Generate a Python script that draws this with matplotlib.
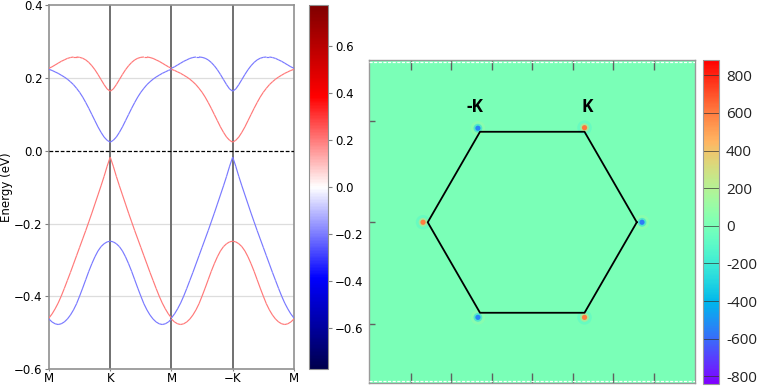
import numpy as np
import matplotlib.pyplot as plt
from matplotlib.collections import LineCollection
from matplotlib.colors import Normalize
from matplotlib.cm import ScalarMappable

# ---- band structure data (eV), sampled along M -> K, fraction of the segment ----
k_frac = np.linspace(0.0, 1.0, 21)

cb_upper = [0.227, 0.231, 0.236, 0.241, 0.246, 0.250, 0.254, 0.2565, 0.258, 0.258,
            0.257, 0.2545, 0.250, 0.243, 0.234, 0.223, 0.210, 0.196, 0.182, 0.170, 0.164]
cb_lower = [0.224, 0.221, 0.217, 0.213, 0.208, 0.203, 0.197, 0.190, 0.182, 0.172,
            0.161, 0.148, 0.133, 0.117, 0.100, 0.083, 0.066, 0.051, 0.038, 0.029, 0.024]
vb_upper = [-0.459, -0.448, -0.434, -0.418, -0.399, -0.378, -0.356, -0.334, -0.311, -0.288,
            -0.265, -0.242, -0.219, -0.195, -0.171, -0.146, -0.121, -0.096, -0.070, -0.042, -0.017]
vb_lower = [-0.462, -0.470, -0.475, -0.477, -0.475, -0.470, -0.462, -0.451, -0.437, -0.420,
            -0.399, -0.377, -0.354, -0.331, -0.310, -0.291, -0.275, -0.263, -0.255, -0.250, -0.248]

# spin expectation on the M-K-M half; the M-(-K)-M half has the opposite sign
band_spin = [0.2, -0.2, 0.2, -0.2]

path_labels = ["M", "K", "M", "$-$K", "M"]
y_ticks = [-0.6, -0.4, -0.2, 0.0, 0.2, 0.4]
spin_ticks = [-0.6, -0.4, -0.2, 0.0, 0.2, 0.4, 0.6]

# ---- Berry curvature map data ----
bz_kx = [1.0, 0.5, -0.5, -1.0, -0.5, 0.5]
bz_ky = [0.0, 0.866, 0.866, 0.0, -0.866, -0.866]
valley_kx = [1.05, 0.5, -0.52, -1.045, -0.52, 0.5]
valley_ky = [0.0, 0.905, 0.9, 0.0, -0.91, -0.91]
valley_curv = [-560, 620, -540, 600, -540, 600]
valley_names = ["-K", "K"]
curv_ticks = [-800, -600, -400, -200, 0, 200, 400, 600, 800]
map_xticks = [-1.164, -0.776, -0.388, 0.0, 0.388, 0.776, 1.164]
map_yticks = [-0.97, 0.0, 0.97]

fig = plt.figure(figsize=(7.63, 3.86), dpi=100)

# ================= left: spin-resolved bands =================
ax1 = fig.add_axes([0.0642, 0.0433, 0.321, 0.943])
cax1 = fig.add_axes([0.405, 0.0433, 0.0249, 0.943])

spin_norm = Normalize(-0.775, 0.775)
for band, s in zip([cb_upper, cb_lower, vb_upper, vb_lower], band_spin):
    e = np.asarray(band)
    for seg in range(4):
        x = seg + k_frac
        y = e if seg % 2 == 0 else e[::-1]
        sp = np.full(len(k_frac) - 1, s if seg < 2 else -s)
        pts = np.column_stack([x, y]).reshape(-1, 1, 2)
        segs = np.concatenate([pts[:-1], pts[1:]], axis=1)
        lc = LineCollection(segs, cmap="seismic", norm=spin_norm, linewidths=0.85, zorder=3)
        lc.set_array(sp)
        ax1.add_collection(lc)

for xv in [1, 2, 3]:
    ax1.axvline(xv, color="#707070", lw=1.4, zorder=2)
for yv in [-0.4, -0.2, 0.2]:
    ax1.axhline(yv, color="#dddddd", lw=0.9, zorder=1)
ax1.axhline(0.0, color="black", lw=0.9, ls=(0, (3, 1.5)), zorder=4)

ax1.set_xlim(0, 4)
ax1.set_ylim(-0.6, 0.4)
ax1.set_xticks(range(5))
ax1.set_xticklabels(path_labels)
ax1.set_yticks(y_ticks)
ax1.set_yticklabels([f"{v:.1f}".replace("-", "\u2212") for v in y_ticks])
ax1.set_ylabel("Energy (eV)", fontsize=8.5)
ax1.yaxis.set_label_coords(-0.145, 0.5)
ax1.tick_params(labelsize=8.5, color="#808080", length=3, width=0.8, pad=1.5)
ax1.tick_params(axis="x", length=1.5, pad=0.5)
for sp in ax1.spines.values():
    sp.set_color("#909090")
    sp.set_linewidth(1.2)

sm1 = ScalarMappable(norm=spin_norm, cmap="seismic")
cb1 = fig.colorbar(sm1, cax=cax1, ticks=spin_ticks)
cb1.ax.set_yticklabels([f"{v:.1f}".replace("-", "\u2212") for v in spin_ticks])
cb1.ax.tick_params(labelsize=8.5, length=3, color="#808080", width=0.8, pad=2)
cb1.outline.set_edgecolor("#909090")

# ================= right: Berry curvature map =================
ax2 = fig.add_axes([0.4836, 0.0078, 0.4273, 0.8368])
cax2 = fig.add_axes([0.9214, 0.0052, 0.021, 0.839])

curv_norm = Normalize(-840, 880)
cmap2 = plt.get_cmap("rainbow")
ax2.set_facecolor(cmap2(curv_norm(0)))

halo = [-0.18 * v for v in valley_curv]
ax2.scatter(valley_kx, valley_ky, c=halo, cmap=cmap2, norm=curv_norm, s=110,
            alpha=0.55, edgecolors="none", zorder=2)
ax2.scatter(valley_kx, valley_ky, c=[0.5 * v for v in valley_curv], cmap=cmap2,
            norm=curv_norm, s=40, alpha=0.6, edgecolors="none", zorder=3)
ax2.scatter(valley_kx, valley_ky, c=valley_curv, cmap=cmap2, norm=curv_norm, s=14,
            edgecolors="none", zorder=4)

ax2.plot(bz_kx + bz_kx[:1], bz_ky + bz_ky[:1], color="black", lw=1.3, zorder=5)
ax2.text(bz_kx[2] - 0.05, 1.10, valley_names[0], ha="center", va="center",
         fontsize=12.5, fontweight="bold", family="Open Sans")
ax2.text(bz_kx[1] + 0.03, 1.10, valley_names[1], ha="center", va="center",
         fontsize=12.5, fontweight="bold", family="Open Sans")

ax2.set_xlim(-1.562, 1.557)
ax2.set_ylim(-1.538, 1.553)
ax2.set_xticks(map_xticks)
ax2.set_yticks(map_yticks)
ax2.tick_params(axis="x", direction="in", top=True, bottom=True, length=7,
                color="#606060", width=1.0, labelbottom=False)
ax2.tick_params(axis="y", direction="in", left=True, right=False, length=4.5,
                color="#606060", width=1.0, labelleft=False)
for sp in ax2.spines.values():
    sp.set_color("#9a9a9a")
    sp.set_linewidth(1.0)
for yy in [0.995, 0.005]:
    ax2.plot([0, 1], [yy, yy], transform=ax2.transAxes, color="white",
             lw=0.9, ls=(0, (2.5, 1.2)), zorder=6)

sm2 = ScalarMappable(norm=curv_norm, cmap=cmap2)
cb2 = fig.colorbar(sm2, cax=cax2, ticks=curv_ticks)
cb2.ax.set_yticklabels([str(v) for v in curv_ticks], fontsize=11, family="Open Sans",
                       color="#222222")
cb2.ax.tick_params(length=0, pad=5)
for lv in curv_ticks:
    cb2.ax.axhline(lv, color="#333333", lw=0.7, alpha=0.7)
cb2.outline.set_edgecolor("#9a9a9a")

fig.savefig("out.png", dpi=100)
